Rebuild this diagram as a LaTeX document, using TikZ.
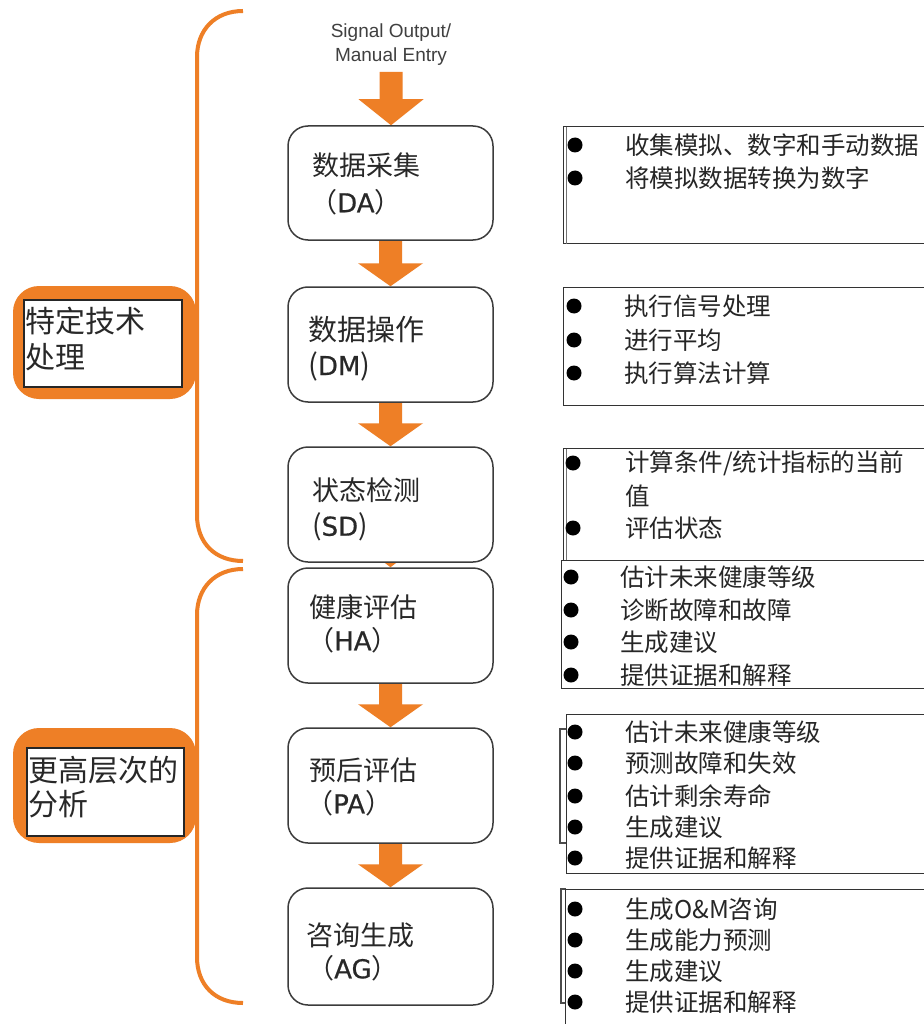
\documentclass[tikz,border=0pt]{standalone}
\usepackage{fontspec}
\newfontfamily\cjk{Noto Sans CJK SC}
\newfontfamily\arialf{Liberation Sans}
\newfontfamily\dvs[FakeBold=0.6]{DejaVu Sans}
\usetikzlibrary{calc}
\pgfdeclarelayer{bg}
\pgfsetlayers{bg,main}
\definecolor{org}{RGB}{238,127,38}
\definecolor{boxline}{RGB}{60,60,60}
\definecolor{txt}{RGB}{40,40,40}
\newcommand\blockarr[3]{%
 \fill[org] let \p1=(#1), \p2=(#2) in (\x1-11.5pt,\y1) -- (\x1-11.5pt,\y2+#3pt) -- (\x1-32.5pt,\y2+#3pt) -- (\x1,\y2) -- (\x1+32.5pt,\y2+#3pt) -- (\x1+11.5pt,\y2+#3pt) -- (\x1+11.5pt,\y1) -- cycle;}
\newcommand\lat[1]{{\dvs\fontsize{26}{30}\selectfont #1}}
\begin{document}
\begin{tikzpicture}[x=1pt,y=-1pt,
 flowbox/.style={draw=boxline, line width=1.5pt, fill=white, rounded corners=20pt, minimum width=205pt, inner sep=0},
 flowtxt/.style={anchor=west, inner sep=0, font=\cjk\fontsize{27}{32}\selectfont, text=txt},
 listbox/.style={draw=black!80, line width=1.2pt, fill=white, anchor=north west, minimum width=380pt, inner sep=0},
 listtxt/.style={anchor=west, inner sep=0, font=\cjk\fontsize{24.5}{30}\selectfont, text=black!85},
 bul/.style={circle, fill=black, minimum size=15pt, inner sep=0},
 labtxt/.style={anchor=west, inner sep=0, font=\cjk\fontsize{30}{36}\selectfont, text=txt},
 brace/.style={draw=org, line width=4pt},
 edge2/.style={draw=black!55, line width=1pt}]
\useasboundingbox (0,0) rectangle (923,1024);

% input text
\node[font=\arialf\fontsize{19}{24}\selectfont, text=black!75, align=center, inner sep=0] (sig) at (391,45) {Signal Output/\\Manual Entry};
\coordinate (src) at (391,72);

% flow boxes
\node[flowbox, minimum height=114pt] (da) at (390.5,183) {};
\node[flowbox, minimum height=115pt] (dm) at (390.5,344.5) {};
\node[flowbox, minimum height=115pt] (sd) at (390.5,504.5) {};
\node[flowbox, minimum height=115pt] (ha) at (390.5,625.5) {};
\node[flowbox, minimum height=115pt] (pa) at (390.5,785.5) {};
\node[flowbox, minimum height=117pt] (ag) at (390.5,946.5) {};

\begin{pgfonlayer}{bg}
\fill[white] (0,0) rectangle (923,1024);
\blockarr{src}{da.north}{26}
\blockarr{da.south}{dm.north}{23}
\blockarr{dm.south}{sd.north}{23}
\blockarr{sd.south}{ha.north}{25}
\blockarr{ha.south}{pa.north}{23}
\blockarr{pa.south}{ag.north}{23}
\end{pgfonlayer}

\node[flowtxt] (da1) at (312,165) {数据采集};
\node[flowtxt] (da2) at (310,202) {（\lat{DA}）};
\node[flowtxt, font=\cjk\fontsize{29}{34}\selectfont] (dm1) at (308,330) {数据操作};
\node[flowtxt, font=\cjk\fontsize{29}{34}\selectfont] (dm2) at (308,366) {(\lat{DM})};
\node[flowtxt] (sd1) at (312,490) {状态检测};
\node[flowtxt, font=\cjk\fontsize{28}{34}\selectfont] (sd2) at (312,527) {(\lat{SD})};
\node[flowtxt] (ha1) at (309,607) {健康评估};
\node[flowtxt] (ha2) at (307,640) {（\lat{HA}）};
\node[flowtxt] (pa1) at (309,770) {预后评估};
\node[flowtxt] (pa2) at (306,803) {（\lat{PA}）};
\node[flowtxt] (ag1) at (306,935) {咨询生成};
\node[flowtxt] (ag2) at (307,968) {（\lat{AG}）};

% braces
\draw[brace] (243,11) .. controls (215,11) and (197,30) .. (197,57) -- (197,515) .. controls (197,543) and (215,561) .. (243,561);
\draw[brace] (243,569) .. controls (215,569) and (197,588) .. (197,615) -- (197,957) .. controls (197,985) and (215,1003) .. (243,1003);

% left labels
\node[fill=org, rounded corners=26pt, minimum width=183pt, minimum height=113pt, inner sep=0] (lab1o) at (104.5,342.5) {};
\node[draw=black!85, line width=1.2pt, fill=white, minimum width=158pt, minimum height=87pt, inner sep=0] (lab1) at (103,343.5) {};
\node[labtxt] (lab1a) at (25,321) {特定技术};
\node[labtxt] (lab1b) at (25,357) {处理};
\node[fill=org, rounded corners=26pt, minimum width=183pt, minimum height=115pt, inner sep=0] (lab2o) at (104.5,785.5) {};
\node[draw=black!85, line width=1.2pt, fill=white, minimum width=157pt, minimum height=88pt, inner sep=0] (lab2) at (105.5,792) {};
\node[labtxt] (lab2a) at (28,770) {更高层次的};
\node[labtxt] (lab2b) at (28,804) {分析};

% list boxes
\node[listbox, minimum height=117pt] (l1) at (563,126) {};
\draw[edge2] ($(l1.north west)+(3,1)$) -- ($(l1.south west)+(3,0)$);
\node[bul] (b11) at (575,145) {}; \node[listtxt] (t11) at (625,145) {收集模拟、数字和手动数据};
\node[bul] (b12) at (575,178) {}; \node[listtxt] (t12) at (625,178) {将模拟数据转换为数字};

\node[listbox, minimum height=118pt] (l2) at (563,287) {};
\node[bul] (b21) at (574,306) {}; \node[listtxt] (t21) at (624,306) {执行信号处理};
\node[bul] (b22) at (574,340) {}; \node[listtxt] (t22) at (624,340) {进行平均};
\node[bul] (b23) at (574,373) {}; \node[listtxt] (t23) at (624,373) {执行算法计算};

\node[listbox, minimum height=112pt] (l3) at (563,448) {};
\draw[edge2] ($(l3.north west)+(3,1)$) -- ($(l3.south west)+(3,0)$);
\node[bul] (b31) at (573,463) {}; \node[listtxt] (t31) at (625,463) {计算条件/统计指标的当前};
\node[listtxt] (t32) at (625,496) {值};
\node[bul] (b33) at (573,528) {}; \node[listtxt] (t33) at (625,528) {评估状态};

\node[listbox, minimum height=128pt] (l4) at (561,560) {};
\node[bul] (b41) at (571,577) {}; \node[listtxt] (t41) at (620,577) {估计未来健康等级};
\node[bul] (b42) at (571,610) {}; \node[listtxt] (t42) at (620,610) {诊断故障和故障};
\node[bul] (b43) at (571,642) {}; \node[listtxt] (t43) at (620,642) {生成建议};
\node[bul] (b44) at (571,675) {}; \node[listtxt] (t44) at (620,675) {提供证据和解释};

\draw[edge2, draw=black!70, line width=1.2pt] (566,729) -- (560,729) -- (560,843) -- (566,843);
\node[listbox, minimum height=159pt] (l5) at (566,714) {};
\node[bul] (b51) at (575,732) {}; \node[listtxt] (t51) at (625,732) {估计未来健康等级};
\node[bul] (b52) at (575,763) {}; \node[listtxt] (t52) at (625,763) {预测故障和失效};
\node[bul] (b53) at (575,796) {}; \node[listtxt] (t53) at (625,796) {估计剩余寿命};
\node[bul] (b54) at (575,827) {}; \node[listtxt] (t54) at (625,827) {生成建议};
\node[bul] (b55) at (575,858) {}; \node[listtxt] (t55) at (625,858) {提供证据和解释};

\draw[edge2, draw=black!70, line width=1.2pt] (566,889) -- (561,889) -- (561,1003) -- (566,1003);
\node[listbox, minimum height=160pt] (l6) at (565,889) {};
\node[bul] (b61) at (575,909) {}; \node[listtxt] (t61) at (625,909) {生成O\&M咨询};
\node[bul] (b62) at (575,940) {}; \node[listtxt] (t62) at (625,940) {生成能力预测};
\node[bul] (b63) at (575,971) {}; \node[listtxt] (t63) at (625,971) {生成建议};
\node[bul] (b64) at (575,1002) {}; \node[listtxt] (t64) at (625,1002) {提供证据和解释};
\end{tikzpicture}
\end{document}
